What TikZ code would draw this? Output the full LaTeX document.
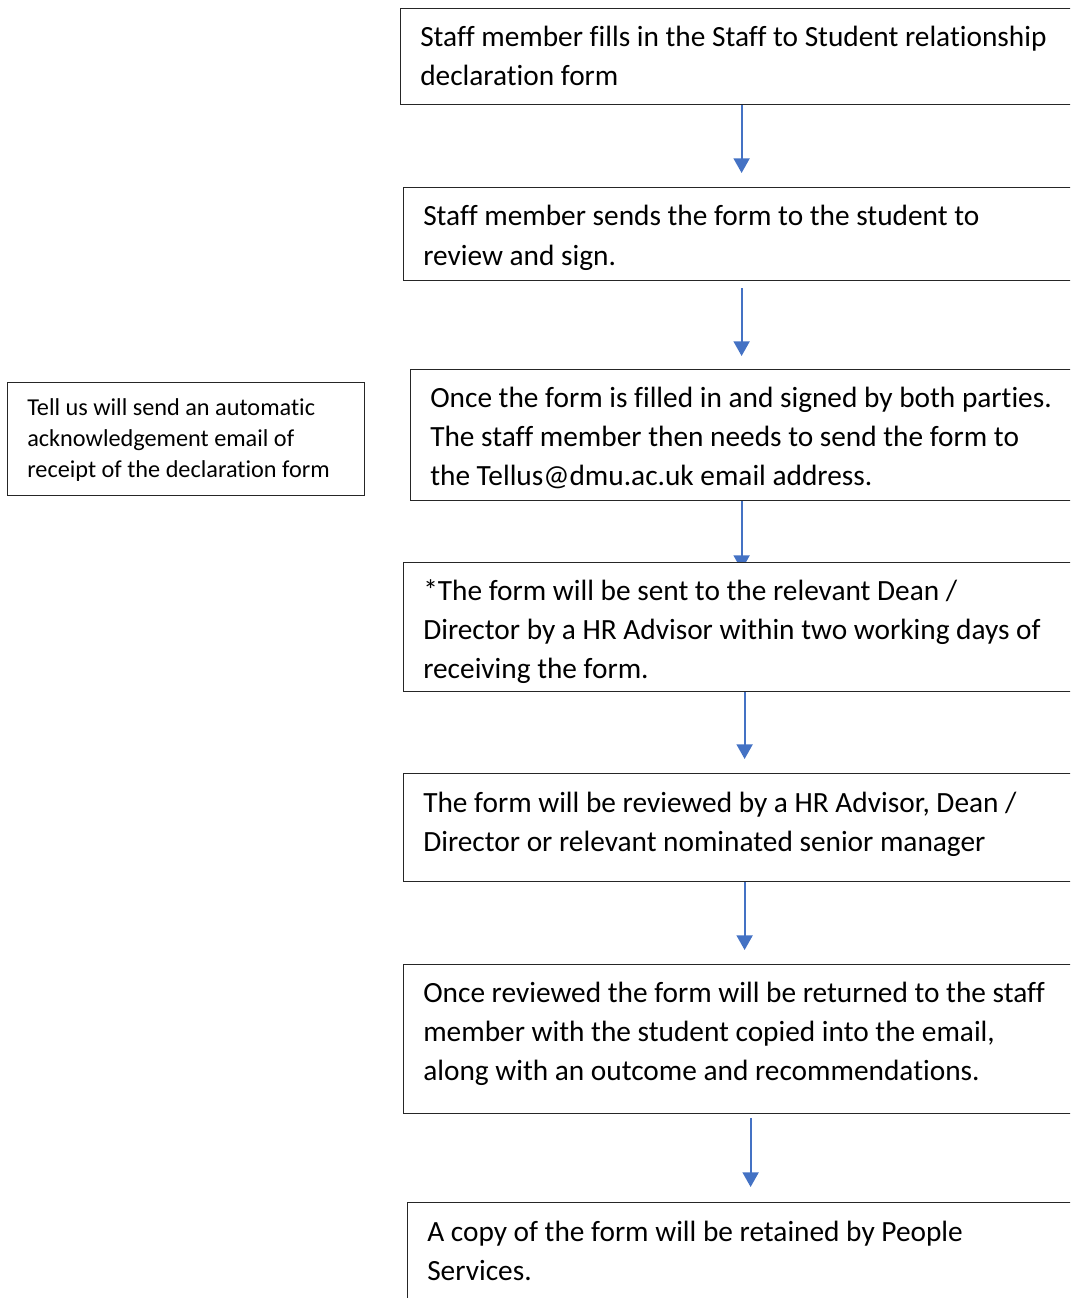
\documentclass[tikz,border=0pt]{standalone}
\usepackage{fontspec}
\setmainfont{Carlito}[Ligatures=CommonOff]
\usetikzlibrary{arrows.meta,backgrounds}
\definecolor{flowblue}{HTML}{4472C4}
\tikzset{
  box/.style={draw=black!85, line width=0.9pt, fill=white, inner sep=0pt, anchor=north west},
  boxtext/.style={font=\fontsize{22}{29.25}\selectfont, align=left, anchor=base west, inner sep=0pt},
  notetext/.style={font=\fontsize{18.2}{23.25}\selectfont, align=left, anchor=base west, inner sep=0pt},
  flow/.style={draw=flowblue, line width=1.4pt, -{Triangle[width=12pt,length=11pt]}}
}
\begin{document}
\begin{tikzpicture}[x=0.75pt,y=-0.75pt]
  \path[use as bounding box, clip] (0,0) rectangle (1070,1298);
  % steps
  \node [box, minimum width=511.5pt, minimum height=72pt]   (fill)    at (400,8)    {};
  \node [box, minimum width=507pt,   minimum height=69.75pt] (send)   at (403,187)  {};
  \node [box, minimum width=496.5pt, minimum height=98.25pt] (signed) at (410,369)  {};
  \node [box, minimum width=511.5pt, minimum height=96.75pt] (dean)   at (403,562)  {};
  \node [box, minimum width=511.5pt, minimum height=81pt]    (review) at (403,773)  {};
  \node [box, minimum width=520.5pt, minimum height=111.75pt](return) at (403,964)  {};
  \node [box, minimum width=525pt,   minimum height=105pt]   (retain) at (407,1202) {};
  \node [box, minimum width=267.75pt, minimum height=84.75pt](ack)    at (7,382)    {};
  % texts (placed at the baseline of their last line)
  \node [boxtext] (fillT)   at (420,86)   {Staff member fills in the Staff to Student relationship\\declaration form};
  \node [boxtext] (sendT)   at (423,265)  {Staff member sends the form to the student to\\review and sign.};
  \node [boxtext] (signedT) at (430,485)  {Once the form is filled in and signed by both parties.\\The staff member then needs to send the form to\\the Tellus@dmu.ac.uk email address.};
  \node [boxtext] (deanT)   at (423,678)  {*The form will be sent to the relevant Dean /\\Director by a HR Advisor within two working days of\\receiving the form.};
  \node [boxtext] (reviewT) at (423,851)  {The form will be reviewed by a HR Advisor, Dean /\\Director or relevant nominated senior manager};
  \node [boxtext] (returnT) at (423,1080) {Once reviewed the form will be returned to the staff\\member with the student copied into the email,\\along with an outcome and recommendations.};
  \node [boxtext] (retainT) at (427,1280) {A copy of the form will be retained by People\\Services.};
  \node [notetext] (ackT)   at (27,477)   {Tell us will send an automatic\\acknowledgement email of\\receipt of the declaration form};
  % arrows
  \begin{scope}[on background layer]
    \draw [flow, shorten >=10.5pt] (fill.south) -- (fill.south |- send.north);
    \draw [flow, shorten <=5.25pt, shorten >=9.75pt] (send.south) -- (send.south |- signed.north);
    \draw [flow, shorten >=-6pt] (signed.south) -- (signed.south |- dean.north);
    \draw [flow, shorten >=10.5pt] (dean.south) -- (dean.south |- review.north);
    \draw [flow, shorten >=10.5pt] (review.south) -- (review.south |- return.north);
    \draw [flow, shorten <=3pt, shorten >=11.25pt] (return.south) -- (return.south |- retain.north);
  \end{scope}
\end{tikzpicture}
\end{document}
